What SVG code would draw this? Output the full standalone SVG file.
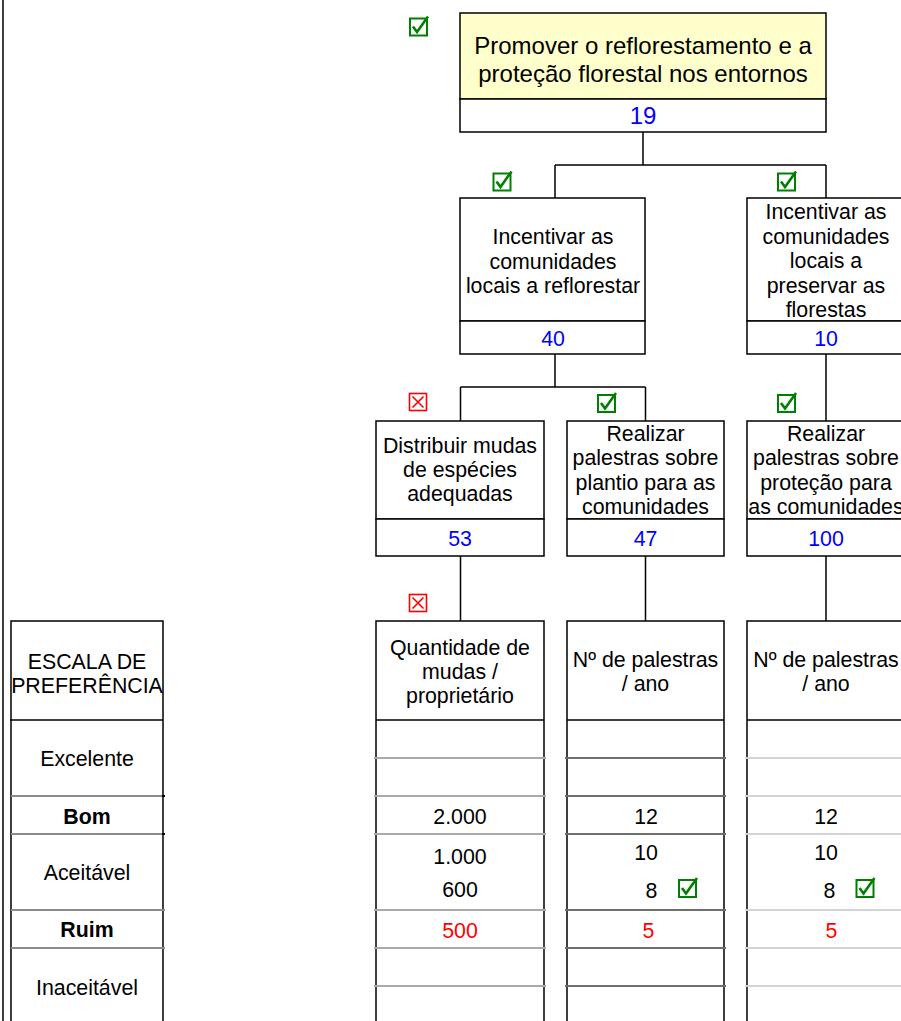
<svg xmlns="http://www.w3.org/2000/svg" width="901" height="1021" viewBox="0 0 901 1021">
  <style>
    text { font-family: "Liberation Sans", Arial, sans-serif; font-size: 21.33px; fill: #000; text-anchor: middle; }
    .big { font-size: 24px; }
    .num { fill: #0000ff; }
    .bad { fill: #ff0000; }
    .b { font-weight: bold; }
    .box { fill: #fff; stroke: #000; stroke-width: 1.5; }
    .goal { fill: #ffffcc; stroke: #000; stroke-width: 1.5; }
    .ln { stroke: #000; stroke-width: 1.5; fill: none; }
    .g1 { stroke: #aaaaaa; stroke-width: 2; }
    .g2 { stroke: #6e6e6e; stroke-width: 2; }
    .g3 { stroke: #d4d4d4; stroke-width: 2; }
    .g0 { stroke: #8c8c8c; stroke-width: 2; }
  </style>
  <defs>
    <!-- green ticked checkbox, centred on 0,0 -->
    <g id="ok">
      <rect x="-8.5" y="-8" width="17" height="17" fill="#fff" stroke="#008000" stroke-width="2"/>
      <path d="M-5.5 0 L-1.5 5.5 L9.5 -10" fill="none" stroke="#008000" stroke-width="2.6"/>
    </g>
    <!-- red crossed checkbox, centred on 0,0 -->
    <g id="no">
      <rect x="-8.5" y="-8.5" width="17" height="17" fill="#fff" stroke="#ff0000" stroke-width="1.6"/>
      <path d="M-5.5 -5.5 L5.5 5.5 M5.5 -5.5 L-5.5 5.5" fill="none" stroke="#ff0000" stroke-width="1.6"/>
    </g>
  </defs>

  <!-- page margin rule -->
  <line x1="3" y1="0" x2="3" y2="1021" stroke="#000" stroke-width="1.5"/>

  <!-- connectors -->
  <g id="connectors" class="ln">
    <path d="M643 132 V165 M555 165 H826 M555 165 V198 M826 165 V198"/>
    <path d="M555 354 V387 M460.5 387 H645.5 M460.5 387 V421 M645.5 387 V421 M826 354 V421"/>
    <path d="M460.5 556 V621 M645.5 556 V621 M826 556 V621"/>
  </g>

  <!-- root objective -->
  <g id="n-root">
    <rect class="goal" x="460" y="13" width="366" height="86"/>
    <rect class="box" x="460" y="99" width="366" height="33"/>
    <text class="big" x="643" y="54">Promover o reflorestamento e a</text>
    <text class="big" x="643" y="82">proteção florestal nos entornos</text>
    <text class="big num" x="643" y="124">19</text>
    <use href="#ok" x="418.5" y="26.5"/>
  </g>

  <!-- level 2 -->
  <g id="n-reflorestar">
    <rect class="box" x="460" y="198" width="185" height="123"/>
    <rect class="box" x="460" y="321" width="185" height="33"/>
    <text x="553" y="244">Incentivar as</text>
    <text x="553" y="268.5">comunidades</text>
    <text x="553" y="293">locais a reflorestar</text>
    <text class="num" x="553" y="346">40</text>
    <use href="#ok" x="502" y="181.5"/>
  </g>
  <g id="n-preservar">
    <rect class="box" x="747" y="198" width="158" height="123"/>
    <rect class="box" x="747" y="321" width="158" height="33"/>
    <text x="826" y="219">Incentivar as</text>
    <text x="826" y="243.5">comunidades</text>
    <text x="826" y="268">locais a</text>
    <text x="826" y="292.5">preservar as</text>
    <text x="826" y="317">florestas</text>
    <text class="num" x="826" y="346">10</text>
    <use href="#ok" x="786.5" y="181.5"/>
  </g>

  <!-- level 3 -->
  <g id="n-mudas">
    <rect class="box" x="376" y="421" width="168" height="98"/>
    <rect class="box" x="376" y="519" width="168" height="37"/>
    <text x="460" y="452.5">Distribuir mudas</text>
    <text x="460" y="477">de espécies</text>
    <text x="460" y="501">adequadas</text>
    <text class="num" x="460" y="545.5">53</text>
    <use href="#no" x="418" y="402"/>
  </g>
  <g id="n-palestras-plantio">
    <rect class="box" x="567" y="421" width="157" height="98"/>
    <rect class="box" x="567" y="519" width="157" height="37"/>
    <text x="645.5" y="440.5">Realizar</text>
    <text x="645.5" y="465">palestras sobre</text>
    <text x="645.5" y="489.5">plantio para as</text>
    <text x="645.5" y="514">comunidades</text>
    <text class="num" x="645.5" y="545.5">47</text>
    <use href="#ok" x="606.5" y="403"/>
  </g>
  <g id="n-palestras-protecao">
    <rect class="box" x="747" y="421" width="158" height="98"/>
    <rect class="box" x="747" y="519" width="158" height="37"/>
    <text x="826" y="440.5">Realizar</text>
    <text x="826" y="465">palestras sobre</text>
    <text x="826" y="489.5">proteção para</text>
    <text x="826" y="514">as comunidades</text>
    <text class="num" x="826" y="545.5">100</text>
    <use href="#ok" x="786.5" y="403"/>
  </g>

  <!-- preference scale -->
  <g id="scale">
    <rect class="box" x="11" y="621" width="152" height="410"/>
    <line x1="10" y1="720" x2="163" y2="720" stroke="#000" stroke-width="1.5"/>
    <line class="g0" x1="11" y1="796" x2="163" y2="796"/>
    <line class="g0" x1="11" y1="834" x2="163" y2="834"/>
    <line x1="162" y1="796" x2="165" y2="796" stroke="#000" stroke-width="2"/>
    <line x1="162" y1="834" x2="165" y2="834" stroke="#000" stroke-width="2"/>
    <line class="g0" x1="11" y1="910" x2="165" y2="910"/>
    <line class="g0" x1="11" y1="948" x2="165" y2="948"/>
    <text x="87" y="669">ESCALA DE</text>
    <text x="87" y="693">PREFERÊNCIA</text>
    <text x="87" y="765.5">Excelente</text>
    <text class="b" x="87" y="823.5">Bom</text>
    <text x="87" y="879.5">Aceitável</text>
    <text class="b" x="87" y="936.5">Ruim</text>
    <text x="87" y="994.5">Inaceitável</text>
  </g>

  <!-- descriptors -->
  <g id="n-quantidade">
    <rect class="box" x="376" y="621" width="168" height="410"/>
    <line x1="376" y1="720" x2="544" y2="720" stroke="#000" stroke-width="1.5"/>
    <g class="g1">
      <line x1="374" y1="758" x2="546" y2="758"/>
      <line x1="374" y1="796" x2="546" y2="796"/>
      <line x1="374" y1="834" x2="546" y2="834"/>
      <line x1="374" y1="910" x2="546" y2="910"/>
      <line x1="374" y1="948" x2="546" y2="948"/>
      <line x1="374" y1="986" x2="546" y2="986"/>
    </g>
    <text x="460" y="654.5">Quantidade de</text>
    <text x="460" y="678.5">mudas /</text>
    <text x="460" y="702.5">proprietário</text>
    <text x="460" y="823.5">2.000</text>
    <text x="460" y="863.5">1.000</text>
    <text x="460" y="896.5">600</text>
    <text class="bad" x="460" y="937.5">500</text>
    <use href="#no" x="418" y="603"/>
  </g>
  <g id="n-num-plantio">
    <rect class="box" x="567" y="621" width="157" height="410"/>
    <line x1="567" y1="720" x2="724" y2="720" stroke="#000" stroke-width="1.5"/>
    <g class="g2">
      <line x1="565" y1="758" x2="726" y2="758"/>
      <line x1="565" y1="796" x2="726" y2="796"/>
      <line x1="565" y1="834" x2="726" y2="834"/>
      <line x1="565" y1="910" x2="726" y2="910"/>
      <line x1="565" y1="948" x2="726" y2="948"/>
      <line x1="565" y1="986" x2="726" y2="986"/>
    </g>
    <text x="645.5" y="666.5">Nº de palestras</text>
    <text x="645.5" y="690.5">/ ano</text>
    <text x="646" y="823.5">12</text>
    <text x="646" y="860">10</text>
    <text x="651.5" y="897.5">8</text>
    <text class="bad" x="648.5" y="937.5">5</text>
    <use href="#ok" x="687.5" y="888"/>
  </g>
  <g id="n-num-protecao">
    <rect class="box" x="747" y="621" width="158" height="410"/>
    <line x1="747" y1="720" x2="905" y2="720" stroke="#000" stroke-width="1.5"/>
    <g class="g3">
      <line x1="745" y1="758" x2="905" y2="758"/>
      <line x1="745" y1="796" x2="905" y2="796"/>
      <line x1="745" y1="834" x2="905" y2="834"/>
      <line x1="745" y1="910" x2="905" y2="910"/>
      <line x1="745" y1="948" x2="905" y2="948"/>
      <line x1="745" y1="986" x2="905" y2="986"/>
    </g>
    <text x="826" y="666.5">Nº de palestras</text>
    <text x="826" y="690.5">/ ano</text>
    <text x="826" y="823.5">12</text>
    <text x="826" y="860">10</text>
    <text x="829.5" y="897.5">8</text>
    <text class="bad" x="831.5" y="937.5">5</text>
    <use href="#ok" x="865" y="888"/>
  </g>
</svg>
